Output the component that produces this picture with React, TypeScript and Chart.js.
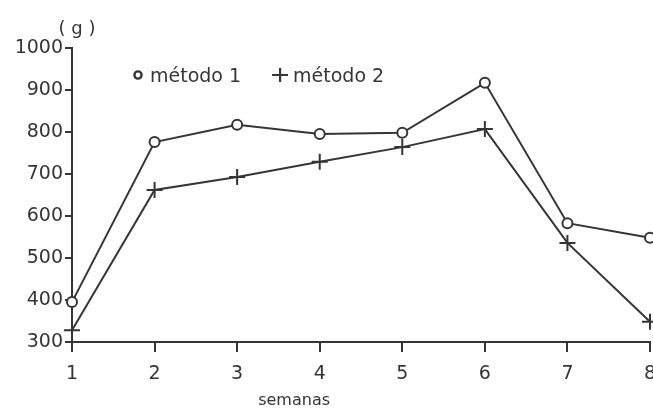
import React, { useEffect, useRef } from "react";
import { Chart, registerables } from "chart.js";

Chart.register(...registerables);

// ---- data ----
const weeks = ["1", "2", "3", "4", "5", "6", "7", "8"];
const metodo1 = [395, 776, 817, 795, 798, 917, 583, 548];
const metodo2 = [328, 662, 693, 729, 764, 807, 536, 348];
const seriesNames = ["método 1", "método 2"];
const yMin = 300;
const yMax = 1000;
const yStep = 100;
const xTitle = "semanas";
const yUnit = "( g )";

const INK = "#353535";
const FONT = "'DejaVu Sans', sans-serif";

const annotations = {
  id: "annotations",
  afterDraw(chart: any) {
    const { ctx, chartArea, scales } = chart;
    ctx.save();
    ctx.fillStyle = INK;
    ctx.strokeStyle = INK;
    ctx.textBaseline = "alphabetic";

    // y unit
    ctx.font = `18px ${FONT}`;
    ctx.textAlign = "center";
    ctx.fillText(yUnit, chartArea.left + 5, 34);

    // x title
    ctx.font = `16px ${FONT}`;
    ctx.fillText(xTitle, scales.x.getPixelForValue(2.69), 405);

    // legend
    ctx.font = `19px ${FONT}`;
    ctx.textAlign = "left";
    const cy = chartArea.top + 27;
    const base = chartArea.top + 34;
    let x = chartArea.left + 66;
    // circle marker
    ctx.lineWidth = 2.4;
    ctx.beginPath();
    ctx.arc(x, cy, 3.6, 0, Math.PI * 2);
    ctx.fillStyle = "#ffffff";
    ctx.fill();
    ctx.stroke();
    ctx.fillStyle = INK;
    ctx.fillText(seriesNames[0], x + 12, base);
    const w1 = ctx.measureText(seriesNames[0]).width;
    x = x + 12 + w1 + 39;
    // cross marker
    ctx.lineWidth = 2.2;
    ctx.beginPath();
    ctx.moveTo(x - 8, cy);
    ctx.lineTo(x + 8, cy);
    ctx.moveTo(x, cy - 7);
    ctx.lineTo(x, cy + 7);
    ctx.stroke();
    ctx.fillText(seriesNames[1], x + 13, base);
    ctx.restore();
  },
};

export default function App() {
  const ref = useRef<HTMLCanvasElement | null>(null);

  useEffect(() => {
    if (!ref.current) return;
    const chart = new Chart(ref.current, {
      type: "line",
      data: {
        labels: weeks,
        datasets: [
          {
            label: seriesNames[0],
            data: metodo1,
            borderColor: INK,
            borderWidth: 2,
            pointStyle: "circle",
            pointRadius: 5,
            pointBorderWidth: 2,
            pointBackgroundColor: "#ffffff",
            pointBorderColor: INK,
            tension: 0,
            clip: false as any,
          },
          {
            label: seriesNames[1],
            data: metodo2,
            borderColor: INK,
            borderWidth: 2,
            pointStyle: "cross",
            pointRadius: 8,
            pointBorderWidth: 2,
            pointBorderColor: INK,
            tension: 0,
            clip: false as any,
          },
        ],
      },
      options: {
        responsive: false,
        animation: false,
        devicePixelRatio: 1,
        layout: { padding: { top: 48, right: 8, left: 0, bottom: 0 } },
        plugins: {
          legend: { display: false },
          tooltip: { enabled: false },
        },
        scales: {
          x: {
            type: "category",
            offset: false,
            grid: { drawOnChartArea: false, drawTicks: true, tickLength: 10, color: INK, lineWidth: 2 },
            border: { display: true, color: INK, width: 2 },
            ticks: { color: INK, font: { family: FONT, size: 19 }, padding: 11, maxRotation: 0, autoSkip: false },
            afterFit: (s: any) => {
              s.height = 67;
              s.paddingLeft = 0;
              s.paddingRight = 0;
            },
          },
          y: {
            type: "linear",
            min: yMin,
            max: yMax,
            grid: { drawOnChartArea: false, drawTicks: true, tickLength: 7, color: INK, lineWidth: 2 },
            border: { display: true, color: INK, width: 2 },
            ticks: {
              stepSize: yStep,
              color: INK,
              font: { family: FONT, size: 19 },
              padding: 2,
              callback: (v: any) => String(v),
            },
            afterFit: (s: any) => {
              s.width = 72;
              s.paddingTop = 0;
              s.paddingBottom = 0;
            },
          },
        },
      },
      plugins: [annotations],
    });
    return () => chart.destroy();
  }, []);

  return (
    <div
      style={{
        position: "absolute",
        left: 0,
        top: 0,
        width: 653,
        height: 409,
        overflow: "hidden",
        background: "#ffffff",
      }}
    >
      <canvas ref={ref} width={660} height={409} style={{ display: "block", width: 660, height: 409 }} />
    </div>
  );
}
